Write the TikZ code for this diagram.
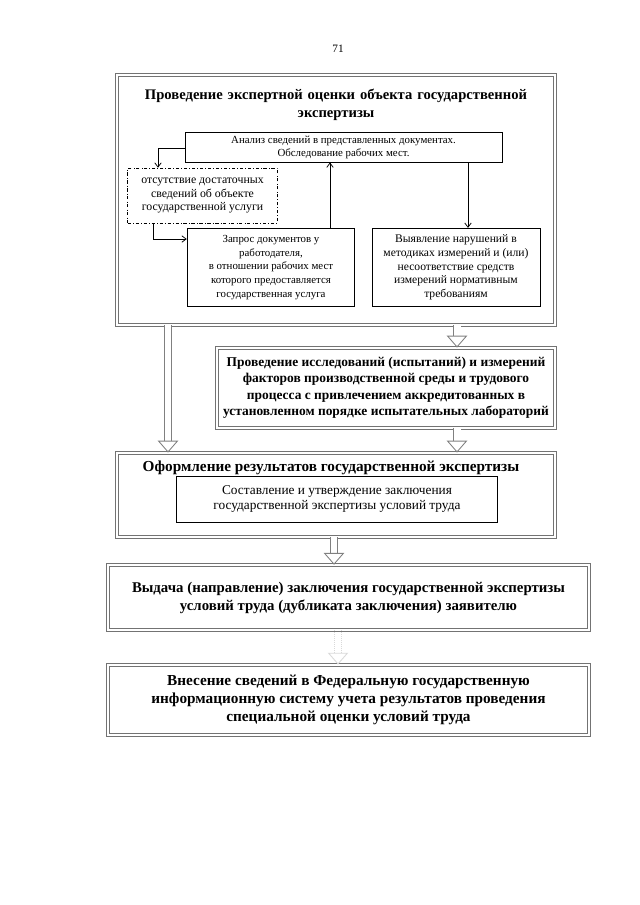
\documentclass[tikz,border=0pt]{standalone}
\usepackage{fontspec}
\setmainfont{Liberation Serif}
\usepackage{tikz}
\usetikzlibrary{arrows.meta}
\usetikzlibrary{fit}

\tikzset{
  outerbox/.style={draw=black!55, double, double distance=2.2pt, line width=0.85pt, inner sep=0pt},
  innerbox/.style={draw, line width=0.7pt, align=center, font=\fontsize{10.3}{12.7}\selectfont, inner sep=2pt},
  lackbox/.style={draw, dash dot, line width=0.7pt, align=center, font=\fontsize{11}{12.2}\selectfont, inner sep=2pt},
  bigtext/.style={align=center, font=\fontsize{13.6}{16.7}\selectfont\bfseries},
  hollow/.style={draw=black!50, double, double distance=6.5pt, line width=0.8pt, -{Triangle[open, length=11pt, width=19pt]}},
  link/.style={->, line width=0.7pt, >={Straight Barb[length=4pt, width=6pt]}}
}

\begin{document}
\begin{tikzpicture}[x=0.93pt, y=-0.93pt]
            \useasboundingbox (0,0) rectangle (640,905);

            \node (page) at (338,49) {\fontsize{10.5}{12}\selectfont 71};

            % first block
            \node[outerbox, fit={(117,75) (555,325)}] (b1) {};
            \node[bigtext, text width=405pt] (t1) at (336,105) {Проведение экспертной оценки объекта государственной\\ экспертизы};
            \node[innerbox, font=\fontsize{10.1}{12}\selectfont, minimum width=295pt, minimum height=28pt] (anal) at (343.5,147) {Анализ сведений в представленных документах.\\ Обследование рабочих мест.};
            \node[lackbox, minimum width=139pt, minimum height=51pt] (lack) at (202.5,195.5) {отсутствие достаточных\\ сведений об объекте\\ государственной услуги};
            \node[innerbox, font=\fontsize{10.1}{12.7}\selectfont, minimum width=156pt, minimum height=73pt] (req) at (271,267.5) {Запрос документов у\\ работодателя,\\ в отношении рабочих мест\\ которого предоставляется\\ государственная услуга};
            \node[innerbox, font=\fontsize{10.8}{12.7}\selectfont, minimum width=156pt, minimum height=73pt] (viol) at (456,267.5) {Выявление нарушений в\\ методиках измерений и (или)\\ несоответствие средств\\ измерений нормативным\\ требованиям};

            \draw[link] (anal.west |- 0,148) -| (158,0 |- lack.north);
            \draw[link] (153,0 |- lack.south) |- (req.west |- 0,239);
            \draw[link] (330,0 |- req.north) -- (330,0 |- anal.south);
            \draw[link] (468,0 |- anal.south) -- (468,0 |- viol.north);

            % research
            \node[outerbox, fit={(217,348) (555,428)}] (b2) {};
            \node[align=center, font=\fontsize{12.5}{15.3}\selectfont\bfseries] (t2) at (386,388) {Проведение исследований (испытаний) и измерений\\ факторов производственной среды и трудового\\ процесса с привлечением аккредитованных в\\ установленном порядке испытательных лабораторий};

            % results
            \node[outerbox, fit={(117,453) (555,537)}] (b3) {};
            \node[bigtext, font=\fontsize{14.2}{16.7}\selectfont\bfseries] (t3) at (331,468) {Оформление результатов государственной экспертизы};
            \node[innerbox, font=\fontsize{12.4}{14}\selectfont, minimum width=298pt, minimum height=43pt] (concl) at (337,499) {Составление и утверждение заключения\\ государственной экспертизы условий труда};

            \node[outerbox, bigtext, font=\fontsize{13.8}{16.7}\selectfont\bfseries, minimum width=447pt, minimum height=60pt] (b4) at (348.5,597.5) {Выдача (направление) заключения государственной экспертизы\\ условий труда (дубликата заключения) заявителю};
            \node[outerbox, bigtext, font=\fontsize{14.2}{16.7}\selectfont\bfseries, minimum width=447pt, minimum height=65pt] (b5) at (348.5,700) {Внесение сведений в Федеральную государственную\\ информационную систему учета результатов проведения\\ специальной оценки условий труда};

            \draw[hollow] (168,0 |- b1.south) -- (168,0 |- b3.north);
            \draw[hollow] (457,0 |- b1.south) -- (457,0 |- b2.north);
            \draw[hollow] (457,0 |- b2.south) -- (457,0 |- b3.north);
            \draw[hollow] (334,0 |- b3.south) -- (334,0 |- b4.north);
            \draw[hollow, draw=black!15, densely dotted] (338,0 |- b4.south) -- (338,0 |- b5.north);
        \end{tikzpicture}
\end{document}
